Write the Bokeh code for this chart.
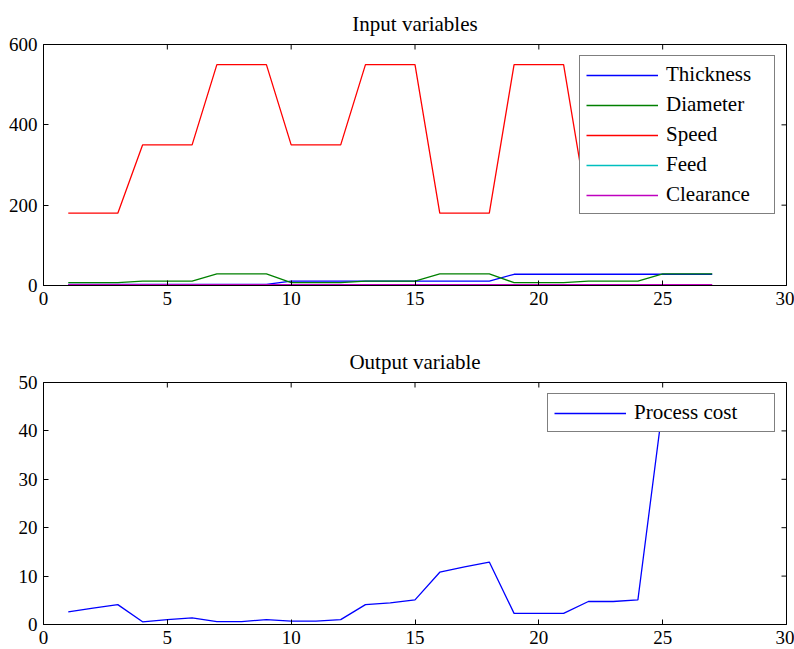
import math
from bokeh.plotting import figure
from bokeh.layouts import column
from bokeh.models import FixedTicker, Range1d, Legend, LegendItem
from bokeh.embed import file_html
from bokeh.resources import INLINE

runs = list(range(1, 28))
thickness = [3]*9 + [11]*9 + [28]*9
diameter = [7, 7, 7, 11, 11, 11, 29, 29, 29,
            7, 7, 7, 11, 11, 11, 29, 29, 29,
            7, 7, 7, 11, 11, 11, 29, 29, 29]
speed = [180, 180, 180, 350, 350, 350, 550, 550, 550,
         350, 350, 350, 550, 550, 550, 180, 180, 180,
         550, 550, 550, 180, 180, 180, 350, 350, 350]
feed = [0.3]*27
clearance = [2]*27
process_cost = [2.6, 3.4, 4.1, 0.55, 1.0, 1.35, 0.6, 0.6, 1.0,
                0.7, 0.7, 1.0, 4.1, 4.45, 5.1, 10.8, 11.9, 12.9,
                2.3, 2.3, 2.3, 4.75, 4.75, 5.1, 45, 45, 45]

x_ticks = [0, 5, 10, 15, 20, 25, 30]
top_y_ticks = [0, 200, 400, 600]
bot_y_ticks = [0, 10, 20, 30, 40, 50]

FONT = "Liberation Serif"
TICK_FS = "19px"
TEXT_FS = "21px"


def style_axis(ax, ticks):
    ax.ticker = FixedTicker(ticks=ticks)
    ax.major_tick_in = 5
    ax.major_tick_out = 0
    ax.minor_tick_line_color = None
    ax.axis_line_color = "black"
    ax.major_tick_line_color = "black"
    ax.major_label_text_font = FONT
    ax.major_label_text_color = "black"
    ax.major_label_text_font_size = TICK_FS


def make_fig(h, title, yticks, ymax, top_border, bottom_border):
    p = figure(width=794, height=h, output_backend="svg", toolbar_location=None,
               x_range=Range1d(0, 30), y_range=Range1d(0, ymax),
               min_border_left=43, min_border_right=8,
               min_border_top=top_border, min_border_bottom=bottom_border)
    p.title.text = title
    p.title.align = "center"
    p.title.text_font = FONT
    p.title.text_font_size = TEXT_FS
    p.title.text_font_style = "normal"
    p.title.text_color = "black"
    p.title.text_line_height = 0.75
    p.title.standoff = 18
    p.xgrid.visible = False
    p.ygrid.visible = False
    p.outline_line_color = "black"
    style_axis(p.xaxis[0], x_ticks)
    style_axis(p.yaxis[0], yticks)
    p.xaxis[0].major_label_standoff = 6
    p.yaxis[0].major_label_standoff = 6
    # mirrored inward ticks on the top and right edges of the box
    p.ray(x=x_ticks, y=[ymax]*len(x_ticks), length=5, angle=-math.pi/2,
          length_units="screen", line_color="black", line_width=1)
    p.ray(x=[30]*len(yticks), y=yticks, length=5, angle=math.pi,
          length_units="screen", line_color="black", line_width=1)
    return p


def style_legend(leg, label_width):
    leg.location = "top_right"
    leg.margin = 11
    leg.padding = 6
    leg.spacing = 5
    leg.glyph_width = 72
    leg.glyph_height = 22
    leg.label_height = 22
    leg.label_width = label_width
    leg.label_standoff = 8
    leg.label_text_font = FONT
    leg.label_text_font_size = TEXT_FS
    leg.label_text_color = "black"
    leg.border_line_color = "black"
    leg.border_line_width = 1
    leg.background_fill_color = "white"
    leg.background_fill_alpha = 1.0


p1 = make_fig(330, "Input variables", top_y_ticks, 600, 43, 45)
series = [("Thickness", thickness, "#0000ff"),
          ("Diameter", diameter, "#008000"),
          ("Speed", speed, "#ff0000"),
          ("Feed", feed, "#00bfbf"),
          ("Clearance", clearance, "#bf00bf")]
items = []
for name, ys, col in series:
    r = p1.line(runs, ys, line_color=col, line_width=1.3)
    items.append(LegendItem(label=name, renderers=[r]))
leg1 = Legend(items=items)
style_legend(leg1, 102)
p1.add_layout(leg1, "center")

p2 = make_fig(319, "Output variable", bot_y_ticks, 50, 52, 25)
r2 = p2.line(runs, process_cost, line_color="#0000ff", line_width=1.3)
leg2 = Legend(items=[LegendItem(label="Process cost", renderers=[r2])])
style_legend(leg2, 134)
p2.add_layout(leg2, "center")

layout = column(p1, p2, spacing=0)
open("out.html", "w").write(file_html(layout, INLINE))
